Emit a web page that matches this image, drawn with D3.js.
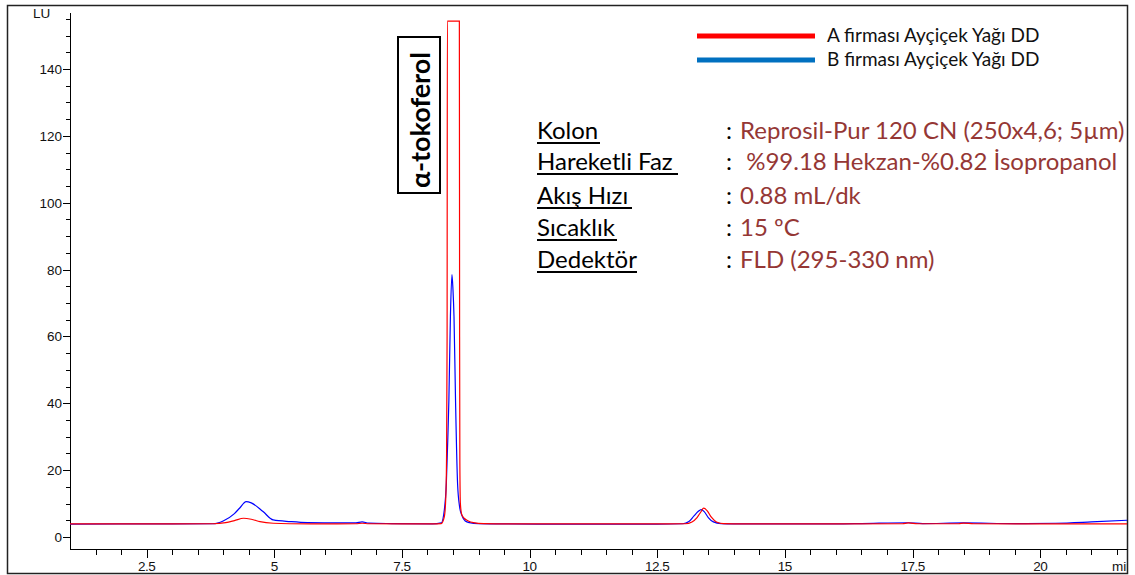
<!DOCTYPE html>
<html>
<head>
<meta charset="utf-8">
<script src="https://cdn.jsdelivr.net/npm/d3@7"></script>
<style>
  body { margin: 0; background: #fff; }
  svg { display: block; }
  .tick-label { font-family: "Liberation Sans", Arial, sans-serif; font-size: 13.5px; fill: #111; }
  .info { font-family: Lato, "Open Sans", sans-serif; font-size: 24px; }
</style>
</head>
<body>
<svg width="1135" height="575"></svg>
<script>
'use strict';

// retention times (min) and signal (LU)
const timeA = [1.0, 2.0, 3.0, 3.8, 4.05, 4.22, 4.4, 4.55, 4.72, 4.98, 5.3, 6.0, 6.6, 6.72, 6.85, 7.5, 8.1, 8.27, 8.33, 8.36, 8.375, 8.385, 8.39, 8.625, 8.63, 8.635, 8.645, 8.67, 8.72, 8.8, 8.9, 9.1, 9.6, 11.0, 12.5, 13.05, 13.18, 13.28, 13.35, 13.41, 13.48, 13.56, 13.66, 13.8, 14.2, 16.0, 17.3, 17.42, 17.6, 18.4, 18.5, 18.7, 20.0, 21.7];
const signalA = [3.9, 3.9, 3.9, 3.95, 4.3, 4.9, 5.6, 5.3, 4.6, 4.1, 3.95, 3.9, 3.95, 4.1, 3.95, 3.9, 3.9, 4.0, 6, 12, 25, 60, 154.3, 154.3, 60, 22, 10, 6.8, 5.6, 4.8, 4.3, 4.0, 3.9, 3.9, 3.9, 3.95, 4.5, 5.8, 7.4, 8.6, 7.8, 5.9, 4.5, 4.0, 3.9, 3.9, 3.95, 4.2, 3.95, 3.95, 4.15, 3.95, 3.9, 3.9];

const timeB = [1.0, 2.0, 3.0, 3.8, 4.0, 4.22, 4.32, 4.45, 4.55, 4.78, 4.98, 5.32, 5.65, 6.3, 6.6, 6.72, 6.85, 7.3, 8.1, 8.27, 8.33, 8.37, 8.40, 8.42, 8.45, 8.48, 8.50, 8.52, 8.55, 8.59, 8.63, 8.67, 8.74, 8.82, 9.0, 9.5, 11.0, 12.5, 13.0, 13.12, 13.22, 13.3, 13.36, 13.42, 13.5, 13.6, 13.75, 14.0, 16.0, 16.5, 17.4, 17.7, 18.5, 19.5, 20.3, 21.0, 21.7];
const signalB = [3.85, 3.9, 3.9, 3.95, 4.8, 7.0, 8.6, 10.6, 10.2, 7.6, 5.1, 4.6, 4.3, 4.2, 4.2, 4.5, 4.15, 4.0, 3.9, 4.2, 8, 16, 30, 41, 66, 78.5, 74, 66, 41, 16, 9, 6.6, 4.8, 4.3, 4.0, 3.9, 3.85, 3.85, 3.95, 4.6, 6.3, 7.6, 8.2, 7.6, 5.8, 4.5, 4.0, 3.9, 3.9, 4.0, 4.25, 4.0, 4.2, 4.0, 4.1, 4.5, 5.0];

const xMajorTicks = [2.5, 5, 7.5, 10, 12.5, 15, 17.5, 20];
const yMajorTicks = [0, 20, 40, 60, 80, 100, 120, 140];

const legendLabels = ["A firması Ayçiçek Yağı DD", "B firması Ayçiçek Yağı DD"];
const infoLabels = ["Kolon", "Hareketli Faz", "Akış Hızı ", "Sıcaklık", "Dedektör"];
const infoValues = ["Reprosil-Pur 120 CN (250x4,6; 5µm)", " %99.18 Hekzan-%0.82 İsopropanol", "0.88 mL/dk", "15 ºC", "FLD (295-330 nm)"];

const svg = d3.select("svg");
const plotLeft = 70, plotRight = 1127, plotTop = 13, plotBottom = 549;

const x = d3.scaleLinear().domain([1, 21.7]).range([plotLeft, plotRight]);
const y = d3.scaleLinear().domain([-3.6, 156.75]).range([plotBottom, plotTop]);

// outer frame
svg.append("rect")
    .attr("x", 7.5).attr("y", 5.5)
    .attr("width", 1120).attr("height", 568)
    .attr("fill", "none").attr("stroke", "#222").attr("stroke-width", 1.5);

svg.append("clipPath").attr("id", "frame")
    .append("rect").attr("x", 8).attr("y", 6).attr("width", 1119).attr("height", 567);

// axes lines
svg.append("line").attr("x1", plotLeft + 0.5).attr("x2", plotLeft + 0.5).attr("y1", plotTop).attr("y2", plotBottom)
    .attr("stroke", "#000");
svg.append("line").attr("x1", plotLeft).attr("x2", plotRight).attr("y1", plotBottom + 0.5).attr("y2", plotBottom + 0.5)
    .attr("stroke", "#000");

// y ticks
const yMinor = d3.range(0, 156, 5);
svg.append("g").selectAll("line").data(yMinor).enter().append("line")
    .attr("x1", d => d % 20 === 0 ? plotLeft - 7 : plotLeft - 4)
    .attr("x2", plotLeft)
    .attr("y1", d => Math.round(y(d)) + 0.5)
    .attr("y2", d => Math.round(y(d)) + 0.5)
    .attr("stroke", "#000");
svg.append("g").selectAll("text").data(yMajorTicks).enter().append("text")
    .attr("class", "tick-label")
    .attr("x", plotLeft - 8)
    .attr("y", d => y(d) + 5)
    .attr("text-anchor", "end")
    .text(d => d);

svg.append("text").attr("class", "tick-label")
    .attr("x", 33).attr("y", 18).text("LU");

// x ticks
const xMinor = d3.range(1.5, 21.7, 0.5);
svg.append("g").selectAll("line").data(xMinor).enter().append("line")
    .attr("x1", d => Math.round(x(d)) + 0.5)
    .attr("x2", d => Math.round(x(d)) + 0.5)
    .attr("y1", plotBottom)
    .attr("y2", d => xMajorTicks.includes(d) ? plotBottom + 9 : plotBottom + 6)
    .attr("stroke", "#000");
svg.append("g").selectAll("text").data(xMajorTicks).enter().append("text")
    .attr("class", "tick-label")
    .attr("x", d => x(d))
    .attr("y", 571)
    .attr("text-anchor", "middle")
    .attr("letter-spacing", "-0.5px")
    .text(d => d);

svg.append("g").attr("clip-path", "url(#frame)")
    .append("text").attr("class", "tick-label")
    .attr("x", 1112).attr("y", 571).text("min");

// traces
const line = d3.line()
    .x(d => x(d[0]))
    .y(d => y(d[1]))
    .curve(d3.curveMonotoneX);

const seriesB = d3.zip(timeB, signalB);
const seriesA = d3.zip(timeA, signalA);

svg.append("path").datum(seriesB)
    .attr("d", line).attr("fill", "none")
    .attr("stroke", "#0000ff").attr("stroke-width", 1.2);
svg.append("path").datum(seriesA)
    .attr("d", line).attr("fill", "none")
    .attr("stroke", "#ff0000").attr("stroke-width", 1.2);

// legend
const legendColors = ["#ff0000", "#0070c0"];
const legend = svg.append("g").selectAll("g").data(legendLabels).enter().append("g")
    .attr("transform", (d, i) => "translate(0," + (36 + i * 24) + ")");
legend.append("line")
    .attr("x1", 697).attr("x2", 815).attr("y1", 0).attr("y2", 0)
    .attr("stroke", (d, i) => legendColors[i]).attr("stroke-width", 5);
legend.append("text")
    .attr("x", 827).attr("y", 6)
    .style("font-family", "Lato, sans-serif").style("font-size", "19px")
    .attr("fill", "#111")
    .text(d => d);

// peak label
svg.append("rect")
    .attr("x", 398).attr("y", 37).attr("width", 42).attr("height", 156)
    .attr("fill", "none").attr("stroke", "#000").attr("stroke-width", 2);
svg.append("text")
    .attr("transform", "translate(430,120) rotate(-90)")
    .attr("text-anchor", "middle")
    .style("font-family", "Lato, sans-serif").style("font-weight", "bold").style("font-size", "27px")
    .text("α-tokoferol");

// method conditions
const baselines = [139, 170, 204, 236, 268];
const underlineEnds = [600, 678, 632, 617, 637];
const info = svg.append("g").selectAll("g").data(infoLabels).enter().append("g");
info.append("text").attr("class", "info")
    .attr("x", 537).attr("y", (d, i) => baselines[i])
    .attr("fill", "#000")
    .text(d => d);
info.append("line")
    .attr("x1", 537).attr("x2", (d, i) => underlineEnds[i])
    .attr("y1", (d, i) => baselines[i] + 4).attr("y2", (d, i) => baselines[i] + 4)
    .attr("stroke", "#000").attr("stroke-width", 2);
info.append("text").attr("class", "info")
    .attr("x", 726).attr("y", (d, i) => baselines[i])
    .attr("fill", "#000")
    .text(":");
info.append("text").attr("class", "info")
    .attr("x", 740).attr("y", (d, i) => baselines[i])
    .attr("fill", "#953735")
    .attr("xml:space", "preserve")
    .style("white-space", "pre")
    .text((d, i) => infoValues[i]);
</script>
</body>
</html>
